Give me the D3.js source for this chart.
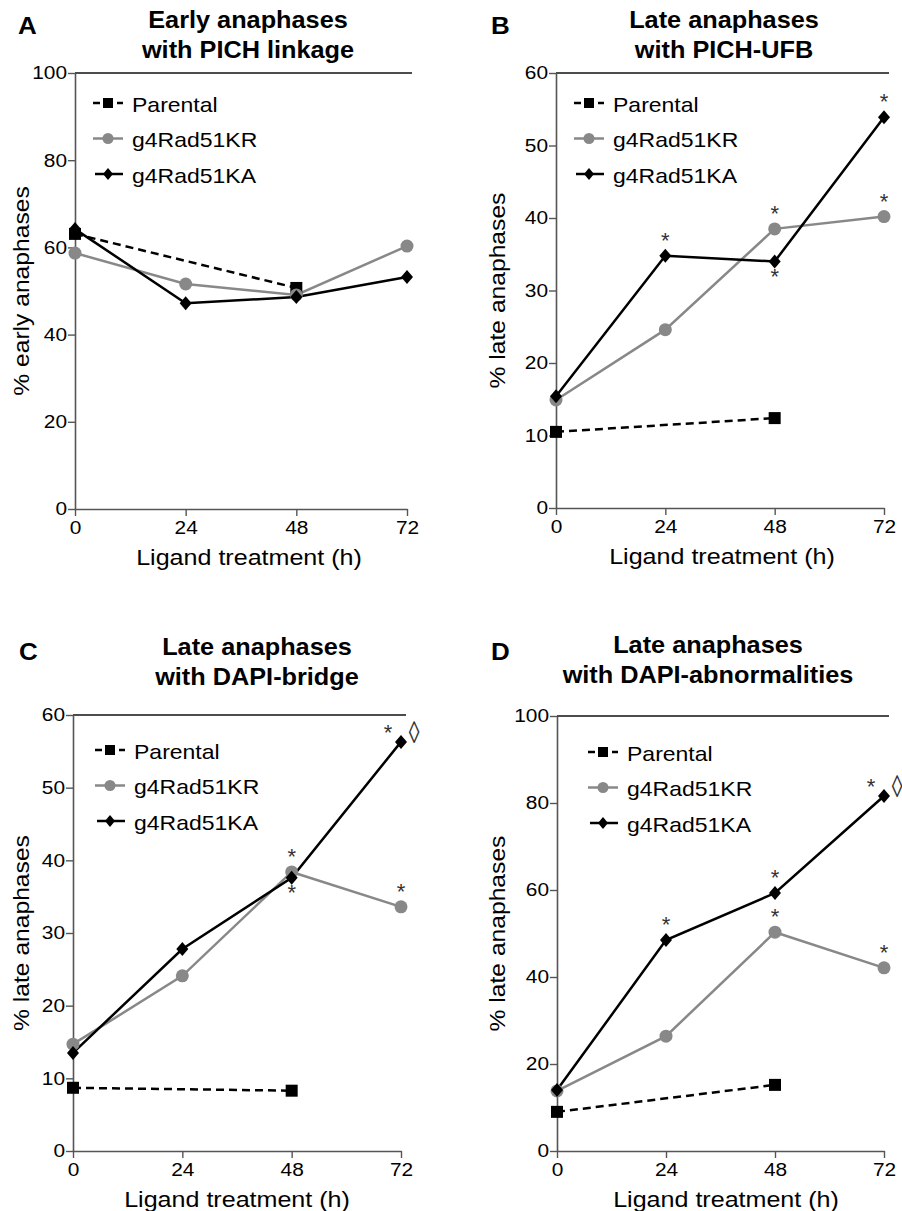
<!DOCTYPE html>
<html><head><meta charset="utf-8">
<script src="https://cdn.jsdelivr.net/npm/d3@7"></script>
<style>body{margin:0;background:#fff}svg{display:block}text{font-family:"Liberation Sans",Arial,sans-serif}</style>
</head><body>
<script>
const hours = [0, 24, 48, 72];
const parentalHours = [0, 48];
const seriesNames = ["Parental", "g4Rad51KR", "g4Rad51KA"];
const panelLetters = ["A", "B", "C", "D"];
const titleLine1 = ["Early anaphases", "Late anaphases", "Late anaphases", "Late anaphases"];
const titleLine2 = ["with PICH linkage", "with PICH-UFB", "with DAPI-bridge", "with DAPI-abnormalities"];
const yLabels = ["% early anaphases", "% late anaphases", "% late anaphases", "% late anaphases"];
const yMaxes = [100, 60, 60, 100];
const yTickStep = [20, 10, 10, 20];
const xTickLabels = ["0", "24", "48", "72"];

const earlyParental = [63.1, 50.7];
const earlyKR = [58.7, 51.6, 49.1, 60.3];
const earlyKA = [64.2, 47.2, 48.6, 53.2];

const ufbParental = [10.5, 12.4];
const ufbKR = [14.9, 24.6, 38.5, 40.2];
const ufbKA = [15.4, 34.8, 34.0, 53.9];

const bridgeParental = [8.7, 8.3];
const bridgeKR = [14.7, 24.1, 38.4, 33.6];
const bridgeKA = [13.5, 27.8, 37.6, 56.3];

const abnParental = [9.0, 15.2];
const abnKR = [13.8, 26.4, 50.3, 42.1];
const abnKA = [14.0, 48.5, 59.3, 81.6];

// significance marks: [series, hour index, "above"/"below"/"diamond"]
const sigB = [["KA",1,"above"],["KR",2,"above"],["KA",2,"below"],["KR",3,"above"],["KA",3,"above"]];
const sigC = [["KR",2,"above"],["KA",2,"below"],["KR",3,"above"],["KA",3,"diamond"]];
const sigD = [["KA",1,"above"],["KA",2,"above"],["KR",2,"above"],["KR",3,"above"],["KA",3,"diamond"]];

const panelsData = [
  {P: earlyParental, KR: earlyKR, KA: earlyKA, sig: []},
  {P: ufbParental, KR: ufbKR, KA: ufbKA, sig: sigB},
  {P: bridgeParental, KR: bridgeKR, KA: bridgeKA, sig: sigC},
  {P: abnParental, KR: abnKR, KA: abnKA, sig: sigD}
];

// layout (pixels)
const layout = [
  {l: 75, r: 407, t: 73, b: 509, letterX: 18, letterY: 34, titleX: 248, titleY: 28, yLabX: 21, xLabX: 249, legX: 93, legY: 103},
  {l: 556, r: 884, t: 73, b: 508, letterX: 491, letterY: 34, titleX: 724, titleY: 28, yLabX: 497, xLabX: 722, legX: 574, legY: 103},
  {l: 73, r: 401, t: 715, b: 1151, letterX: 19, letterY: 660, titleX: 257, titleY: 655, yLabX: 21, xLabX: 237, legX: 95, legY: 750},
  {l: 557, r: 884, t: 716, b: 1151, letterX: 491, letterY: 660, titleX: 708, titleY: 653, yLabX: 497, xLabX: 726, legX: 588, legY: 752}
];

const GRAY = "#888888";
const AXIS = "#555555";
const SX = 1.13; // horizontal stretch of the original lettering

const svg = d3.select("body").append("svg").attr("width", 902).attr("height", 1211);

function diamondPath(cx, cy, w, h) {
  return `M${cx},${cy-h}L${cx+w},${cy}L${cx},${cy+h}L${cx-w},${cy}Z`;
}
function txt(g, x, y, str, size, sx, anchor, extra) {
  const t = g.append("text").attr("transform", `translate(${x},${y}) ${extra || ""} scale(${sx},1)`)
    .attr("font-size", size).attr("text-anchor", anchor || "start").text(str);
  return t;
}
function stretchTicks(sel) {
  sel.selectAll(".tick text").each(function() {
    const t = d3.select(this);
    const x0 = +t.attr("x") || 0;
    t.attr("x", 0).attr("transform", `translate(${x0},0) scale(${SX},1)`);
  });
}

panelsData.forEach((pd, i) => {
  const L = layout[i];
  const g = svg.append("g");
  const x = d3.scaleLinear().domain([0, 72]).range([L.l, L.r]);
  const y = d3.scaleLinear().domain([0, yMaxes[i]]).range([L.b, L.t]);

  // letter & title
  txt(g, L.letterX, L.letterY, panelLetters[i], 23, SX).attr("font-weight", "bold");
  txt(g, L.titleX, L.titleY, titleLine1[i], 23, 1.1, "middle").attr("font-weight", "bold");
  txt(g, L.titleX, L.titleY + 30, titleLine2[i], 23, 1.1, "middle").attr("font-weight", "bold");

  // top frame line
  g.append("line").attr("x1", L.l).attr("x2", L.r + 5).attr("y1", L.t).attr("y2", L.t).attr("stroke", "#111").attr("stroke-width", 1.6);

  // y axis
  const yTicks = d3.range(0, yMaxes[i] + 0.001, yTickStep[i]);
  const yAxis = d3.axisLeft(y).tickValues(yTicks).tickSize(7).tickSizeOuter(0).tickPadding(1).tickFormat(d3.format("d"));
  const ya = g.append("g").attr("transform", `translate(${L.l},0)`).call(yAxis);
  ya.select(".domain").attr("stroke", AXIS).attr("stroke-width", 1.6);
  ya.selectAll(".tick line").attr("stroke", AXIS).attr("stroke-width", 1.4);
  ya.selectAll(".tick text").attr("font-size", 18.5).attr("fill", "#000").attr("font-family", "Liberation Sans, Arial, sans-serif");
  stretchTicks(ya);

  // x axis
  const xAxis = d3.axisBottom(x).tickValues(hours).tickSize(7).tickSizeOuter(0).tickPadding(5).tickFormat((d, k) => xTickLabels[k]);
  const xa = g.append("g").attr("transform", `translate(0,${L.b})`).call(xAxis);
  xa.select(".domain").attr("stroke", AXIS).attr("stroke-width", 1.6);
  xa.selectAll(".tick line").attr("stroke", AXIS).attr("stroke-width", 1.4);
  xa.selectAll(".tick text").attr("font-size", 18.5).attr("fill", "#000").attr("font-family", "Liberation Sans, Arial, sans-serif");
  stretchTicks(xa);

  // axis labels
  txt(g, L.xLabX, L.b + 56, "Ligand treatment (h)", 22, 1.14, "middle");
  txt(g, L.yLabX + 8, (L.t + L.b) / 2, yLabels[i], 22, 1.12, "middle", "rotate(-90)");

  const line = d3.line().x(d => x(d[0])).y(d => y(d[1]));
  const pData = parentalHours.map((h, k) => [h, pd.P[k]]);
  const krData = hours.map((h, k) => [h, pd.KR[k]]);
  const kaData = hours.map((h, k) => [h, pd.KA[k]]);

  // lines
  g.append("path").attr("d", line(pData)).attr("fill", "none").attr("stroke", "#000").attr("stroke-width", 2.5).attr("stroke-dasharray", "8,5");
  g.append("path").attr("d", line(krData)).attr("fill", "none").attr("stroke", GRAY).attr("stroke-width", 2.5);
  g.append("path").attr("d", line(kaData)).attr("fill", "none").attr("stroke", "#000").attr("stroke-width", 2.5);

  // markers
  g.selectAll(null).data(pData).enter().append("rect")
    .attr("x", d => x(d[0]) - 6).attr("y", d => y(d[1]) - 6).attr("width", 12).attr("height", 12).attr("fill", "#000");
  g.selectAll(null).data(krData).enter().append("circle")
    .attr("cx", d => x(d[0])).attr("cy", d => y(d[1])).attr("r", 6.5).attr("fill", GRAY);
  g.selectAll(null).data(kaData).enter().append("path")
    .attr("d", d => diamondPath(x(d[0]), y(d[1]), 6, 7)).attr("fill", "#000");

  // significance
  pd.sig.forEach(s => {
    const vals = s[0] === "KA" ? pd.KA : pd.KR;
    const px = x(hours[s[1]]), py = y(vals[s[1]]);
    const star = (sx, sy) => g.append("text").attr("x", sx).attr("y", sy).attr("text-anchor", "middle")
      .attr("font-size", 22).attr("fill", "#333").attr("font-family", "Liberation Serif, serif").text("*");
    if (s[2] === "above") {
      star(px, py - 8);
    } else if (s[2] === "below") {
      star(px, py + 22);
    } else {
      star(px - 13, py - 2);
      txt(g, px + 13, py + 1, "\u25CA", 31, 0.7, "middle").attr("fill", "#333");
    }
  });

  // legend
  const lg = g.append("g");
  seriesNames.forEach((name, k) => {
    const cy = L.legY + k * 35.5;
    const x1 = L.legX, x2 = L.legX + 30, cx = L.legX + 15;
    if (k === 0) {
      lg.append("line").attr("x1", x1).attr("x2", x2).attr("y1", cy).attr("y2", cy).attr("stroke", "#000").attr("stroke-width", 2.5).attr("stroke-dasharray", "7,5");
      lg.append("rect").attr("x", cx - 5).attr("y", cy - 5).attr("width", 10).attr("height", 10).attr("fill", "#000");
    } else if (k === 1) {
      lg.append("line").attr("x1", x1).attr("x2", x2).attr("y1", cy).attr("y2", cy).attr("stroke", GRAY).attr("stroke-width", 2.5);
      lg.append("circle").attr("cx", cx).attr("cy", cy).attr("r", 5.5).attr("fill", GRAY);
    } else {
      lg.append("line").attr("x1", x1 + 2).attr("x2", x2).attr("y1", cy).attr("y2", cy).attr("stroke", "#000").attr("stroke-width", 2.5);
      lg.append("path").attr("d", diamondPath(cx, cy, 5, 6)).attr("fill", "#000");
    }
    txt(lg, L.legX + 39, cy + 8.5, name, 20, 1.15);
  });
});
</script>
</body></html>
